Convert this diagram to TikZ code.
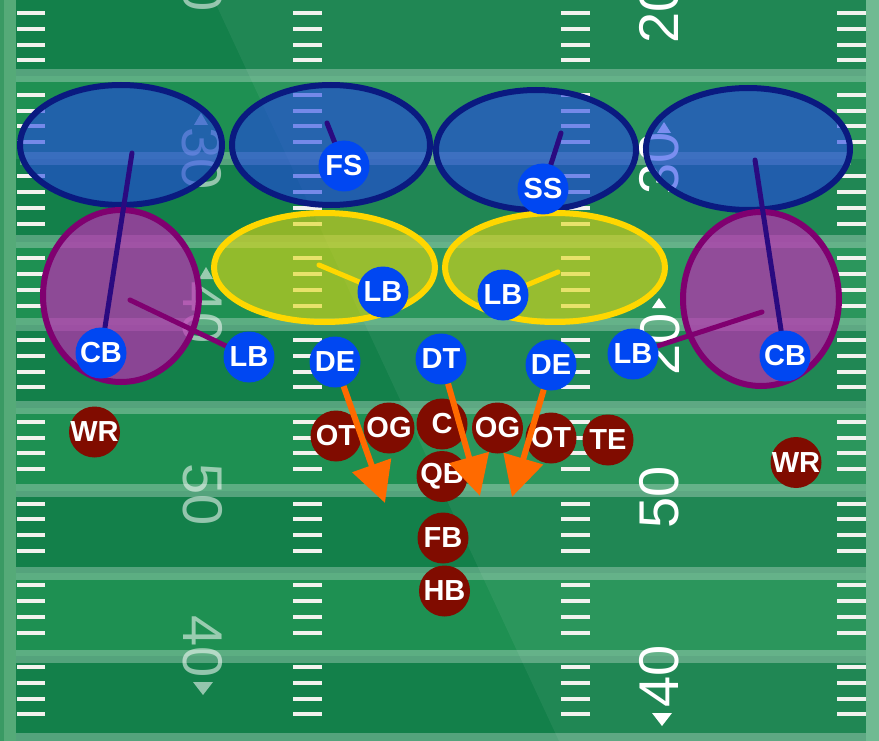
\documentclass[tikz,border=0pt]{standalone}
\usepackage{fontspec}
\setmainfont{Liberation Sans}
\usetikzlibrary{arrows.meta}
\pgfdeclarelayer{field}
\pgfdeclarelayer{zones}
\pgfdeclarelayer{links}
\pgfdeclarelayer{top}
\pgfsetlayers{field,zones,links,main,top}
\definecolor{fborder}{HTML}{55AA78}
\definecolor{fborderright}{HTML}{68B68C}
\definecolor{fborderdark}{HTML}{3A9A64}
\definecolor{fdark}{HTML}{13804A}
\definecolor{flight}{HTML}{1E9052}
\definecolor{hashwhite}{HTML}{F2F2EE}
\definecolor{zblue}{HTML}{2344E6}
\definecolor{zblueedge}{HTML}{0A1A80}
\definecolor{zmag}{HTML}{BD2DB4}
\definecolor{zmagedge}{HTML}{800070}
\definecolor{zyel}{HTML}{E0D814}
\definecolor{zyeledge}{HTML}{FFD700}
\definecolor{linkblue}{HTML}{2A0A80}
\definecolor{defblue}{HTML}{0047F2}
\definecolor{offred}{HTML}{800C00}
\definecolor{rushorange}{HTML}{FF6A00}
\begin{document}
\begin{tikzpicture}[x=1pt,y=-1pt,
  player/.style={circle, minimum size=51pt, inner sep=-4pt, text=white, font=\bfseries\fontsize{29}{29}\selectfont},
  defp/.style={player, fill=defblue},
  offp/.style={player, fill=offred},
  deepzone/.style={fill=zblue, fill opacity=0.6, draw=zblueedge, line width=6pt},
  flatzone/.style={fill=zmag, fill opacity=0.7, draw=zmagedge, line width=6pt},
  hookzone/.style={fill=zyel, fill opacity=0.6, draw=zyeledge, line width=6pt},
  deeplink/.style={draw=linkblue, line width=5pt, line cap=round},
  flatlink/.style={draw=zmagedge, line width=5pt, line cap=round},
  hooklink/.style={draw=zyeledge, line width=5pt, line cap=round},
  rush/.style={draw=rushorange, line width=6pt, -{Triangle[length=40pt,width=40pt]}},
  numL/.style={text=white, text opacity=0.55, rotate=-90, inner sep=0pt, font=\fontsize{56}{56}\selectfont},
  numR/.style={text=white, rotate=90, inner sep=0pt, font=\fontsize{56}{56}\selectfont},
  triL/.style={fill=white, fill opacity=0.55},
  triR/.style={fill=white},
  hashmark/.style={fill=hashwhite},
  yardline/.style={fill=white, opacity=0.28},
]
\useasboundingbox (0,0) rectangle (879,741);

% ---------------- field ----------------
\begin{pgfonlayer}{field}
\fill[fborder] (0,0) rectangle (879,741);
\fill[fborderdark] (0,0) rectangle (4,741);
\fill[fborderright] (866,0) rectangle (879,741);
\fill[fdark] (16,0) rectangle (866,741);
\foreach \i in {0,2,4,6}
  \fill[flight] (16,{76+82.9*\i}) rectangle (866,{76+82.9*(\i+1)});
\foreach \k in {-1,0,2,3,4,5,6,7,8}
  \fill[yardline] (16,{76+82.9*\k-6.5}) rectangle (866,{76+82.9*\k+6.5});
\fill[yardline] (20,{158.9-6.5}) rectangle (851,{158.9+6.5});
\foreach \g in {0,...,8}
  \foreach \j in {0,...,3}
    \foreach \x in {16.5,293,561,837}
      \fill[hashmark] (\x,{13+81.75*\g+15.8*\j-2}) rectangle ++(28.5,4);
\fill[white,opacity=0.06] (214,0) -- (879,0) -- (879,741) -- (559,741) -- cycle;
% numbers left
\node[numL] (nL20) at (203,-19) {20};
\node[numL] (nL30) at (202,159) {30};
\node[numL] (nL40a) at (203,313) {40};
\node[numL] (nL50) at (203,495) {50};
\node[numL] (nL40b) at (203,647) {40};
\fill[triL] (194,125) -- (208,125) -- (201,113) -- cycle;
\fill[triL] (199,279) -- (213,279) -- (206,267) -- cycle;
\fill[triL] (193,682) -- (213,682) -- (203,695) -- cycle;
% numbers right
\node[numR] (nR20a) at (659,12) {20};
\node[numR] (nR30) at (659,163) {30};
\node[numR] (nR20b) at (660,344) {20};
\node[numR] (nR50) at (659,497) {50};
\node[numR] (nR40) at (659,676) {40};
\fill[triR] (657,133) -- (671,133) -- (664,122) -- cycle;
\fill[triR] (652,308) -- (666,308) -- (659,298) -- cycle;
\fill[triR] (652,713) -- (672,713) -- (662,726) -- cycle;
\end{pgfonlayer}

% ---------------- zones ----------------
\begin{pgfonlayer}{zones}
\path[deepzone] (121,145) ellipse [x radius=101, y radius=60];
\path[deepzone] (331,145) ellipse [x radius=99, y radius=60];
\path[deepzone] (536,150) ellipse [x radius=100, y radius=60];
\path[deepzone] (748,149) ellipse [x radius=102, y radius=61];
\path[flatzone] (121,296) ellipse [x radius=78, y radius=86];
\path[flatzone] (761,299) ellipse [x radius=78, y radius=87];
\path[hookzone] (324.5,267.5) ellipse [x radius=110.5, y radius=54.5];
\path[hookzone] (555,267.5) ellipse [x radius=110, y radius=54.5];
\end{pgfonlayer}

% ---------------- players ----------------
\node[defp] (cbL) at (101,353) {CB};
\node[defp] (lbL) at (249,357) {LB};
\node[defp] (fs) at (344,166) {FS};
\node[defp] (lbHL) at (383,292) {LB};
\node[defp] (deL) at (335,362) {DE};
\node[defp] (dt) at (441,359) {DT};
\node[defp] (deR) at (551,365) {DE};
\node[defp] (lbHR) at (503,295) {LB};
\node[defp] (ss) at (543,189) {SS};
\node[defp] (lbR) at (633,354) {LB};
\node[defp] (cbR) at (785,356) {CB};

\node[offp] (wrL) at (94.5,432) {WR};
\node[offp] (otL) at (336,436) {OT};
\node[offp] (ogL) at (389,428) {OG};
\node[offp] (ctr) at (442,424) {C};
\node[offp] (qb) at (442,476.5) {QB};
\node[offp] (otR) at (551,438) {OT};
\node[offp] (ogR) at (497.5,428) {OG};
\node[offp] (te) at (608,440) {TE};
\node[offp] (fb) at (443,538) {FB};
\node[offp] (hb) at (444.5,591) {HB};
\node[offp] (wrR) at (796,462.5) {WR};

% ---------------- assignment links ----------------
\coordinate (zCBL) at (132,153);
\coordinate (zLBL) at (130,300);
\coordinate (zFS) at (327,123);
\coordinate (zLBHL) at (319,265);
\coordinate (zSS) at (561,133);
\coordinate (zLBHR) at (558,272);
\coordinate (zLBR) at (762,312);
\coordinate (zCBR) at (755,160);
\begin{pgfonlayer}{links}
\draw[deeplink] (cbL.center) -- (zCBL);
\draw[flatlink] (lbL.center) -- (zLBL);
\draw[deeplink] (fs.center) -- (zFS);
\draw[hooklink] (lbHL.center) -- (zLBHL);
\draw[deeplink] (ss.center) -- (zSS);
\draw[hooklink] (lbHR.center) -- (zLBHR);
\draw[flatlink] (lbR.center) -- (zLBR);
\draw[deeplink] (cbR.center) -- (zCBR);
\end{pgfonlayer}

% ---------------- rush arrows ----------------
\coordinate (tipL) at (385,503);
\coordinate (tipM) at (480,496);
\coordinate (tipR) at (512,497);
\begin{pgfonlayer}{top}
\draw[rush] (deL) -- (tipL);
\draw[rush] (dt) -- (tipM);
\draw[rush] (deR) -- (tipR);
\end{pgfonlayer}
\end{tikzpicture}
\end{document}
